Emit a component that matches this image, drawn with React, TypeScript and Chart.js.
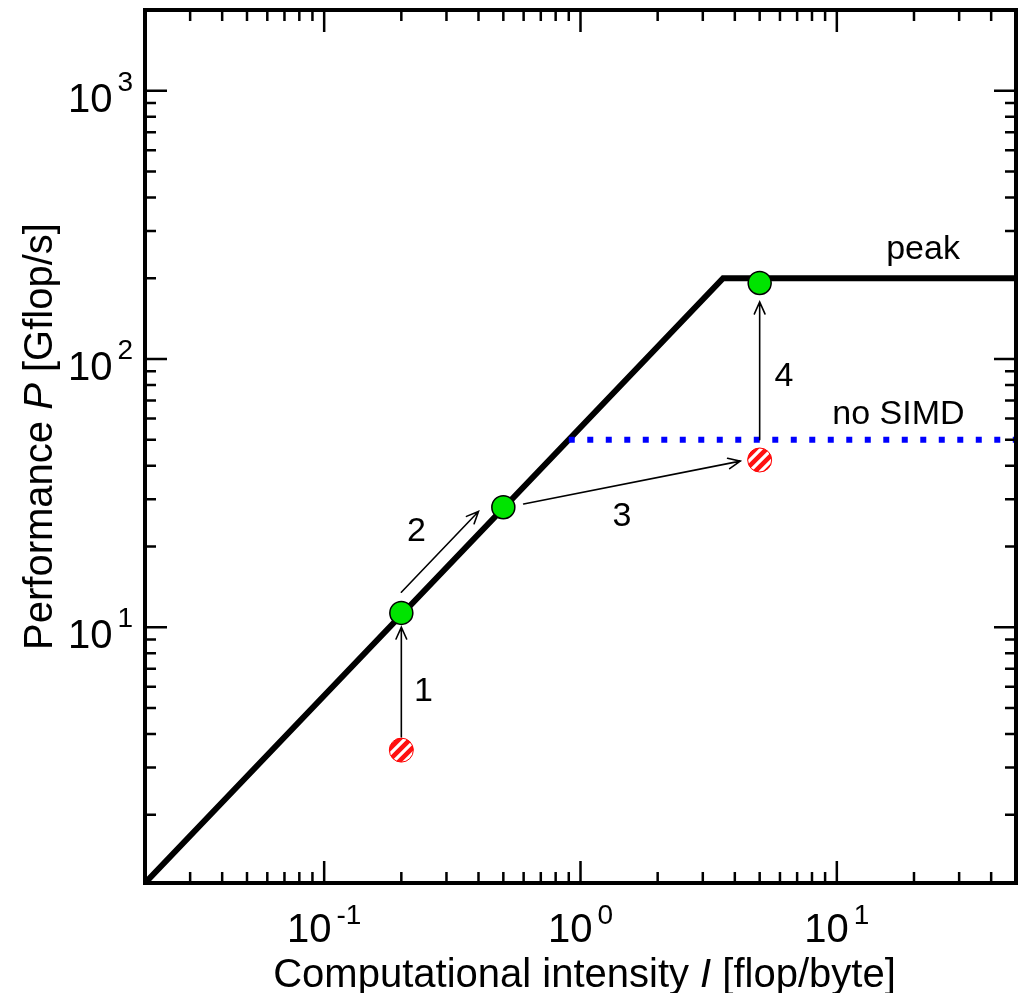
import React, { useEffect, useRef } from "react";
import { Chart, registerables } from "chart.js";

Chart.register(...registerables);

// ---- data ----
const xRange = [0.02, 50];
const yRange = [1.112, 2000];
const xDecades = [-1, 0, 1];
const yDecades = [1, 2, 3];

const ceilingI = [0.02, 3.6, 50];
const ceilingP = [1.112, 200, 200];
const noSimdI = [0.9, 50];
const noSimdP = [50, 50];

const optimizedI = [0.2, 0.5, 5];
const optimizedP = [11.3, 28, 192];
const startI = [0.2, 5];
const startP = [3.48, 42];

const arrowFromI = [0.2, 0.2, 0.6, 5];
const arrowFromP = [3.9, 13.5, 28.8, 50];
const arrowToI = [0.2, 0.4, 4.2, 5];
const arrowToP = [10, 27, 41.6, 163];

const noteTexts = ["1", "2", "3", "4", "peak", "no SIMD"];
const noteI = [0.244, 0.229, 1.45, 6.22, 21.7, 17.4];
const noteP = [5.3, 20.9, 23.8, 79.3, 236, 57.1];

const FONT = '"Liberation Sans", Arial, Helvetica, sans-serif';

function makeHatch(): CanvasPattern | string {
  const s = 11;
  const c = document.createElement("canvas");
  c.width = s;
  c.height = s;
  const g = c.getContext("2d");
  if (!g) return "#ff0000";
  g.fillStyle = "#ff1010";
  g.fillRect(0, 0, s, s);
  g.strokeStyle = "#ffffff";
  g.lineWidth = 3.2;
  g.beginPath();
  g.moveTo(-2, 2);
  g.lineTo(2, -2);
  g.moveTo(0, s);
  g.lineTo(s, 0);
  g.moveTo(s - 2, s + 2);
  g.lineTo(s + 2, s - 2);
  g.stroke();
  const p = g.createPattern(c, "repeat");
  return p || "#ff0000";
}

const decorPlugin = {
  id: "decor",
  afterDatasetsDraw(chart: any) {
    const ctx = chart.ctx as CanvasRenderingContext2D;
    const xs = chart.scales.x;
    const ys = chart.scales.y;
    // arrows
    ctx.save();
    ctx.strokeStyle = "#000";
    ctx.lineWidth = 1.6;
    ctx.lineCap = "round";
    for (let i = 0; i < arrowFromI.length; i++) {
      const x0 = xs.getPixelForValue(arrowFromI[i]);
      const y0 = ys.getPixelForValue(arrowFromP[i]);
      const x1 = xs.getPixelForValue(arrowToI[i]);
      const y1 = ys.getPixelForValue(arrowToP[i]);
      const a = Math.atan2(y1 - y0, x1 - x0);
      const L = 13;
      const h = 0.42;
      ctx.beginPath();
      ctx.moveTo(x0, y0);
      ctx.lineTo(x1, y1);
      ctx.moveTo(x1 - L * Math.cos(a - h), y1 - L * Math.sin(a - h));
      ctx.lineTo(x1, y1);
      ctx.lineTo(x1 - L * Math.cos(a + h), y1 - L * Math.sin(a + h));
      ctx.stroke();
    }
    // notes
    ctx.fillStyle = "#000";
    ctx.font = `34px ${FONT}`;
    ctx.textAlign = "center";
    ctx.textBaseline = "alphabetic";
    for (let i = 0; i < noteTexts.length; i++) {
      ctx.fillText(noteTexts[i], xs.getPixelForValue(noteI[i]), ys.getPixelForValue(noteP[i]));
    }
    ctx.restore();
  },
  afterDraw(chart: any) {
    const ctx = chart.ctx as CanvasRenderingContext2D;
    const xs = chart.scales.x;
    const ys = chart.scales.y;
    const { left, right, top, bottom } = chart.chartArea;
    ctx.save();
    // ticks
    ctx.strokeStyle = "#000";
    ctx.lineWidth = 2.5;
    ctx.lineCap = "butt";
    const major = 22;
    const minor = 11;
    ctx.beginPath();
    const lx0 = Math.floor(Math.log10(xRange[0]));
    const lx1 = Math.ceil(Math.log10(xRange[1]));
    for (let d = lx0; d <= lx1; d++) {
      for (let m = 1; m <= 9; m++) {
        const v = m * Math.pow(10, d);
        if (v <= xRange[0] * 1.0001 || v >= xRange[1] * 0.9999) continue;
        const px = xs.getPixelForValue(v);
        const len = m === 1 ? major : minor;
        ctx.moveTo(px, bottom);
        ctx.lineTo(px, bottom - len);
        ctx.moveTo(px, top);
        ctx.lineTo(px, top + len);
      }
    }
    const ly0 = Math.floor(Math.log10(yRange[0]));
    const ly1 = Math.ceil(Math.log10(yRange[1]));
    for (let d = ly0; d <= ly1; d++) {
      for (let m = 1; m <= 9; m++) {
        const v = m * Math.pow(10, d);
        if (v <= yRange[0] * 1.0001 || v >= yRange[1] * 0.9999) continue;
        const py = ys.getPixelForValue(v);
        const len = m === 1 ? major : minor;
        ctx.moveTo(left, py);
        ctx.lineTo(left + len, py);
        ctx.moveTo(right, py);
        ctx.lineTo(right - len, py);
      }
    }
    ctx.stroke();
    // frame
    ctx.lineWidth = 4;
    ctx.strokeRect(left, top, right - left, bottom - top);

    // tick labels
    ctx.fillStyle = "#000";
    ctx.textBaseline = "alphabetic";
    ctx.textAlign = "left";
    const mainFont = `40px ${FONT}`;
    const supFont = `28px ${FONT}`;
    const gap = 5;
    for (const d of xDecades) {
      const px = xs.getPixelForValue(Math.pow(10, d));
      ctx.font = mainFont;
      const w1 = ctx.measureText("10").width;
      ctx.font = supFont;
      const sup = String(d);
      const w2 = ctx.measureText(sup).width;
      const x0 = px - (w1 + gap + w2) / 2;
      const base = bottom + 59;
      ctx.font = mainFont;
      ctx.fillText("10", x0, base);
      ctx.font = supFont;
      ctx.fillText(sup, x0 + w1 + gap, base - 18);
    }
    for (const d of yDecades) {
      const py = ys.getPixelForValue(Math.pow(10, d));
      ctx.font = mainFont;
      const w1 = ctx.measureText("10").width;
      ctx.font = supFont;
      const sup = String(d);
      const w2 = ctx.measureText(sup).width;
      const xr = left - 12;
      const x0 = xr - w2 - gap - w1;
      const base = py + 21;
      ctx.font = mainFont;
      ctx.fillText("10", x0, base);
      ctx.font = supFont;
      ctx.fillText(sup, x0 + w1 + gap, base - 21);
    }

    // axis titles with italic variable names
    const drawMixed = (parts: [string, boolean][], cx: number, cy: number) => {
      const widths = parts.map(([t, it]) => {
        ctx.font = `${it ? "italic " : ""}40px ${FONT}`;
        return ctx.measureText(t).width;
      });
      const total = widths.reduce((a, b) => a + b, 0);
      let x = cx - total / 2;
      parts.forEach(([t, it], i) => {
        ctx.font = `${it ? "italic " : ""}40px ${FONT}`;
        ctx.fillText(t, x, cy);
        x += widths[i];
      });
    };
    drawMixed(
      [
        ["Computational intensity ", false],
        ["I", true],
        [" [flop/byte]", false],
      ],
      (left + right) / 2 + 4,
      bottom + 104
    );
    ctx.save();
    ctx.translate(52, (top + bottom) / 2 - 10);
    ctx.rotate(-Math.PI / 2);
    drawMixed(
      [
        ["Performance ", false],
        ["P", true],
        [" [Gflop/s]", false],
      ],
      0,
      0
    );
    ctx.restore();
    ctx.restore();
  },
};

export default function App() {
  const ref = useRef<HTMLCanvasElement | null>(null);
  useEffect(() => {
    if (!ref.current) return;
    const hatch = makeHatch();
    const chart = new Chart(ref.current, {
      type: "scatter",
      data: {
        datasets: [
          {
            label: "optimized",
            data: optimizedI.map((x, i) => ({ x, y: optimizedP[i] })),
            pointRadius: 11.5,
            pointBackgroundColor: "#00e400",
            pointBorderColor: "#000",
            pointBorderWidth: 1.5,
            showLine: false,
            order: 0,
          } as any,
          {
            label: "start",
            data: startI.map((x, i) => ({ x, y: startP[i] })),
            pointRadius: 12,
            pointBackgroundColor: hatch,
            pointBorderColor: "#ff0000",
            pointBorderWidth: 1,
            showLine: false,
            order: 1,
          } as any,
          {
            label: "peak",
            data: ceilingI.map((x, i) => ({ x, y: ceilingP[i] })),
            showLine: true,
            borderColor: "#000",
            borderWidth: 6,
            pointRadius: 0,
            fill: false,
            tension: 0,
            borderJoinStyle: "miter",
            order: 3,
          } as any,
          {
            label: "no SIMD",
            data: noSimdI.map((x, i) => ({ x, y: noSimdP[i] })),
            showLine: true,
            borderColor: "#0000ff",
            borderWidth: 6,
            borderDash: [6, 12.5],
            pointRadius: 0,
            fill: false,
            order: 2,
          } as any,
        ],
      },
      options: {
        animation: false,
        responsive: true,
        maintainAspectRatio: false,
        layout: { autoPadding: false, padding: { left: 145, top: 10, right: 6, bottom: 110 } },
        scales: {
          x: { type: "logarithmic", min: xRange[0], max: xRange[1], display: false },
          y: { type: "logarithmic", min: yRange[0], max: yRange[1], display: false },
        },
        plugins: {
          legend: { display: false },
          tooltip: { enabled: false },
        },
      } as any,
      plugins: [decorPlugin],
    });
    return () => chart.destroy();
  }, []);
  return (
    <div style={{ position: "absolute", left: 0, top: 0, width: 1022, height: 993, background: "#fff" }}>
      <canvas ref={ref} />
    </div>
  );
}
